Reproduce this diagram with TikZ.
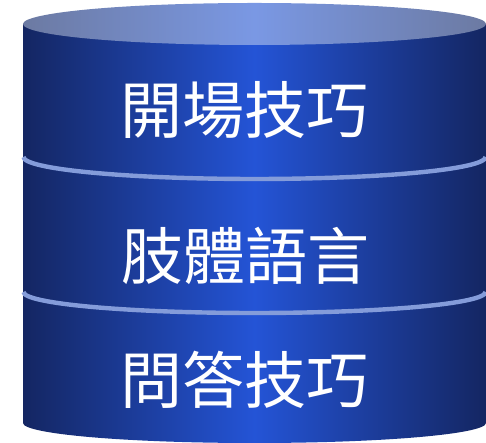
\documentclass[tikz,border=0pt]{standalone}
\usepackage{fontspec}
\newfontfamily\cjk{Noto Sans CJK TC}
\definecolor{edgeblue}{RGB}{20,38,98}
\definecolor{midblue}{RGB}{36,84,214}
\definecolor{topedge}{RGB}{108,122,162}
\definecolor{topmid}{RGB}{122,152,228}
\definecolor{ringblue}{RGB}{132,156,218}
\tikzset{
  layertext/.style={text=white, font=\cjk\fontsize{62}{64}\selectfont, inner sep=0pt},
  ring/.style={draw=ringblue, line width=4.4pt},
}
\begin{document}
\begin{tikzpicture}[x=1pt,y=1pt]
\useasboundingbox (0,0) rectangle (486,443);
% body
\shade[left color=edgeblue, right color=edgeblue, middle color=midblue]
  (23,419) -- (23,20) arc[start angle=180,end angle=360,x radius=231.5,y radius=20] -- (486,419) -- cycle;
% separators
\draw[ring] (23.5,286) arc[start angle=180,end angle=360,x radius=231,y radius=22];
\draw[ring] (23.5,151) arc[start angle=180,end angle=360,x radius=231,y radius=21];
% top ellipse
\shade[left color=topedge, right color=topedge, middle color=topmid]
  (254.5,419) ellipse[x radius=231.5,y radius=21];
% texts
\node[layertext] (t1) at (244,333) {開場技巧};
\node[layertext] (t2) at (245,187) {肢體語言};
\node[layertext] (t3) at (244,63) {問答技巧};
\end{tikzpicture}
\end{document}
